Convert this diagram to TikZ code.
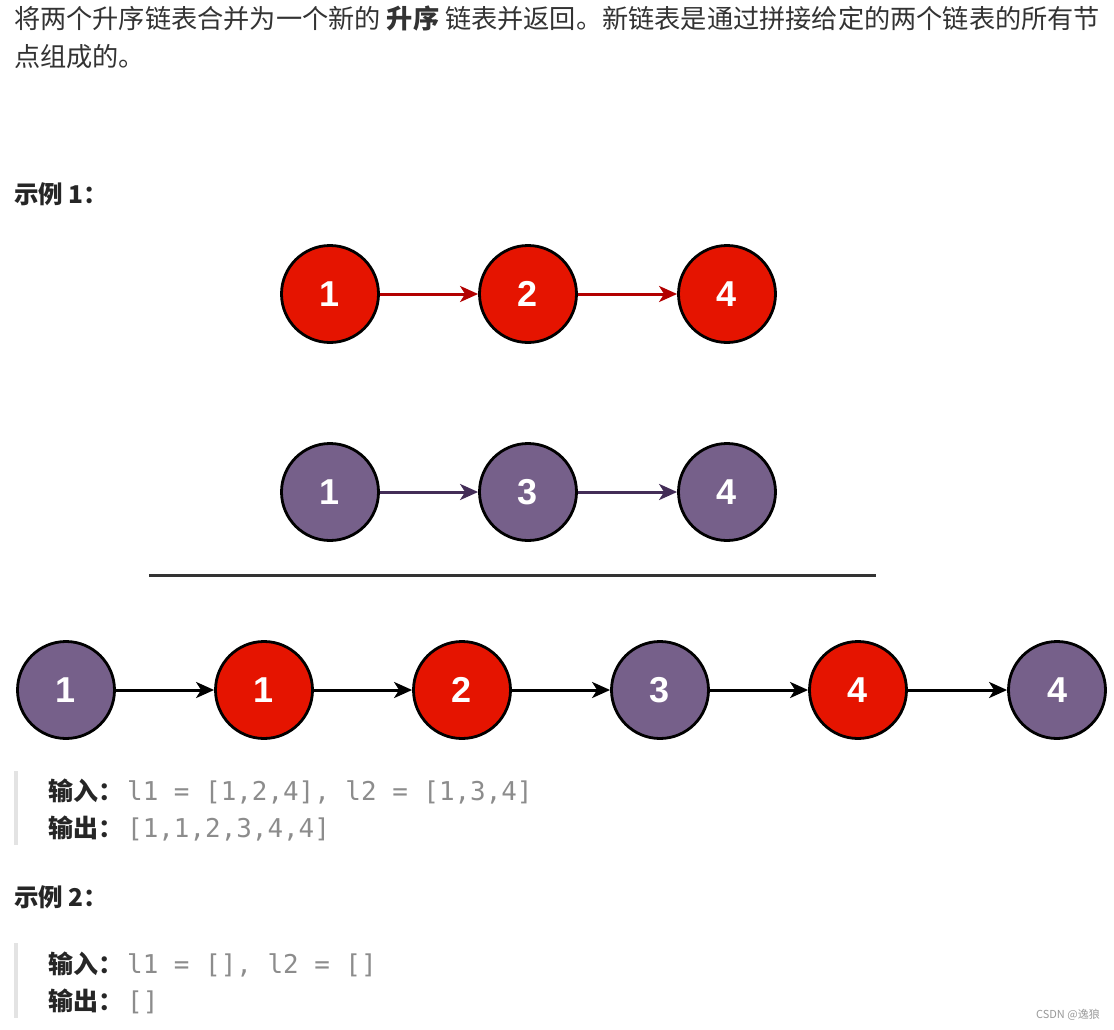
\documentclass[tikz,border=0pt]{standalone}
\usepackage{fontspec}
\setmainfont{Liberation Sans}
\newfontfamily\cjk{Noto Sans CJK SC}
\newfontfamily\monofam{DejaVu Sans Mono}
\usetikzlibrary{arrows.meta}
\definecolor{nred}{HTML}{E51400}
\definecolor{npurple}{HTML}{76608A}
\definecolor{ared}{HTML}{B20000}
\definecolor{apurple}{HTML}{432D57}
\definecolor{bodytext}{HTML}{333333}
\definecolor{headtext}{HTML}{262626}
\definecolor{codegray}{HTML}{8C8C8C}
\definecolor{barcolor}{HTML}{E3E3E3}
\definecolor{rulecolor}{HTML}{333333}
\definecolor{wmgray}{HTML}{999999}
\begin{document}
\begin{tikzpicture}[x=1pt,y=-1pt,
  listnode/.style={circle, draw=black, line width=2.8pt, minimum size=97pt, inner sep=0pt,
    text=white, font=\fontsize{36}{38}\selectfont\bfseries},
  rednode/.style={listnode, fill=nred},
  purplenode/.style={listnode, fill=npurple},
  linkarrow/.style={line width=3pt, -{Stealth[length=18pt,width=16pt,inset=5pt]}},
  body/.style={anchor=base west, inner sep=0pt, text=bodytext, font=\cjk\fontsize{26.2}{30}\selectfont},
  heading/.style={anchor=base west, inner sep=0pt, text=headtext, font=\cjk\fontsize{24.5}{30}\selectfont\bfseries},
  codelabel/.style={anchor=base west, inner sep=0pt, text=headtext, font=\cjk\fontsize{25}{30}\selectfont\bfseries},
  codetext/.style={anchor=base west, inner sep=0pt, text=codegray, font=\monofam\fontsize{25.9}{30}\selectfont},
  quotebar/.style={fill=barcolor, draw=none},
]
\useasboundingbox[fill=white] (0,0) rectangle (1114,1030);

% description
\node[body] (desc1) at (14,29) {将两个升序链表合并为一个新的 \textbf{升序} 链表并返回。新链表是通过拼接给定的两个链表的所有节};
\node[body] (desc2) at (14,67) {点组成的。};

% example 1 heading
\node[heading] (ex1) at (14,204) {示例 1：};

% list 1
\node[rednode] (a1) at (330,294) {1};
\node[rednode] (a2) at (528,294) {2};
\node[rednode] (a3) at (727,294) {4};
\draw[linkarrow, ared] (a1) -- (a2);
\draw[linkarrow, ared] (a2) -- (a3);

% list 2
\node[purplenode] (b1) at (330,492) {1};
\node[purplenode] (b2) at (528,492) {3};
\node[purplenode] (b3) at (727,492) {4};
\draw[linkarrow, apurple] (b1) -- (b2);
\draw[linkarrow, apurple] (b2) -- (b3);

% separator
\coordinate (ruleL) at (149,575);
\coordinate (ruleR) at (876,575);
\draw[line width=3pt, rulecolor] (ruleL) -- (ruleR);

% merged list
\node[purplenode] (c1) at (66,690) {1};
\node[rednode] (c2) at (264,690) {1};
\node[rednode] (c3) at (462,690) {2};
\node[purplenode] (c4) at (660,690) {3};
\node[rednode] (c5) at (858,690) {4};
\node[purplenode] (c6) at (1057,690) {4};
\draw[linkarrow, black] (c1) -- (c2);
\draw[linkarrow, black] (c2) -- (c3);
\draw[linkarrow, black] (c3) -- (c4);
\draw[linkarrow, black] (c4) -- (c5);
\draw[linkarrow, black] (c5) -- (c6);

% code block 1
\fill[quotebar] (14,771) rectangle (18,845);
\node[codelabel] (in1) at (48,800) {输入：};
\node[codetext] (in1v) at (127,800) {l1 = [1,2,4], l2 = [1,3,4]};
\node[codelabel] (out1) at (48,837) {输出：};
\node[codetext] (out1v) at (127,837) {[1,1,2,3,4,4]};

% example 2 heading
\node[heading] (ex2) at (14,906) {示例 2：};

% code block 2
\fill[quotebar] (14,943) rectangle (18,1018);
\node[codelabel] (in2) at (48,973) {输入：};
\node[codetext] (in2v) at (127,973) {l1 = [], l2 = []};
\node[codelabel] (out2) at (48,1010) {输出：};
\node[codetext] (out2v) at (127,1010) {[]};

% watermark
\node[anchor=base east, inner sep=0pt, text=wmgray, font=\cjk\fontsize{11}{13}\selectfont] (wm) at (1100,1018) {CSDN @逸狼};
\end{tikzpicture}
\end{document}
